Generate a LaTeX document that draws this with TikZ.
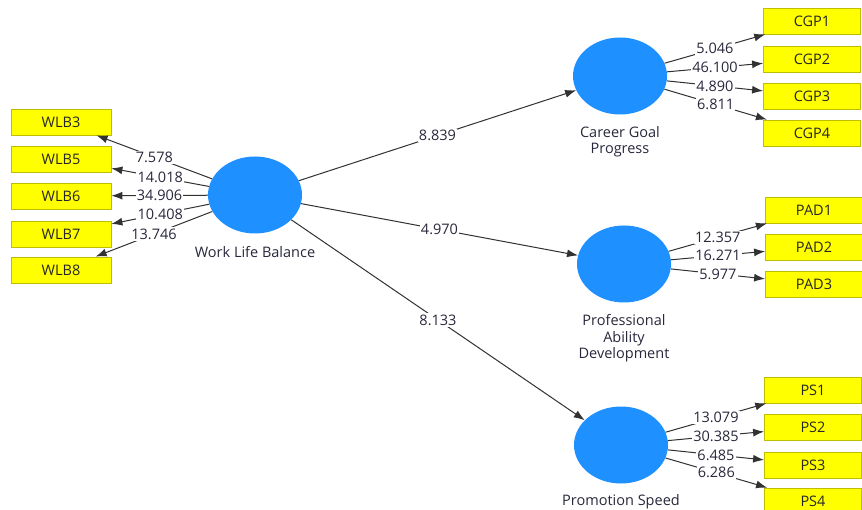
\documentclass[tikz,border=0pt]{standalone}
\usepackage{fontspec}
\setmainfont{Open Sans}
\usetikzlibrary{shapes.geometric,arrows.meta}
\definecolor{latblue}{RGB}{30,144,255}
\definecolor{indyel}{RGB}{255,255,0}
\definecolor{indborder}{RGB}{190,190,0}
\definecolor{edgecol}{RGB}{50,50,50}
\definecolor{txtcol}{RGB}{40,40,60}
\tikzset{
  latent/.style={ellipse, fill=latblue, draw=none, minimum width=94pt, minimum height=77pt, inner sep=0pt},
  indbox/.style={rectangle, fill=indyel, draw=indborder, line width=0.8pt, minimum width=97pt, minimum height=26pt, inner sep=0pt, font=\fontsize{14.5}{16}\selectfont, text=black!85},
  latlabel/.style={align=center, font=\fontsize{14.5}{16.5}\selectfont, text=txtcol},
  conn/.style={draw=edgecol, line width=1pt, -{Latex[length=11pt,width=8pt]}},
  wt/.style={midway, fill=white, inner sep=1.2pt, font=\fontsize{14.5}{16}\selectfont, text=txtcol}
}
\begin{document}
\begin{tikzpicture}[x=1pt,y=-1pt]
\clip (0,0) rectangle (862,510);
\fill[white] (0,0) rectangle (862,510);
% latent variables
\node[latent] (wlb) at (255,195) {};
\node[latent] (cgp) at (620,76) {};
\node[latent] (pad) at (624,264) {};
\node[latent] (ps) at (621,445) {};
\node[latlabel] (wlbL) at (255,252) {Work Life Balance};
\node[latlabel] (cgpL) at (620,141.5) {Career Goal\\Progress};
\node[latlabel] (padL) at (624,338.5) {Professional\\Ability\\Development};
\node[latlabel] (psL) at (621,502) {Promotion Speed};
% WLB indicators
\node[indbox, minimum width=100pt] (wlb3) at (61,122) {WLB3};
\node[indbox, minimum width=100pt] (wlb5) at (61,159) {WLB5};
\node[indbox, minimum width=100pt] (wlb6) at (61,196) {WLB6};
\node[indbox, minimum width=100pt] (wlb7) at (61,234) {WLB7};
\node[indbox, minimum width=100pt] (wlb8) at (61,270) {WLB8};
% CGP indicators
\node[indbox] (cgp1) at (812,21) {CGP1};
\node[indbox] (cgp2) at (812,59) {CGP2};
\node[indbox] (cgp3) at (812,96) {CGP3};
\node[indbox] (cgp4) at (812,133) {CGP4};
% PAD indicators
\node[indbox] (pad1) at (814,210) {PAD1};
\node[indbox] (pad2) at (814,247) {PAD2};
\node[indbox] (pad3) at (814,284) {PAD3};
% PS indicators
\node[indbox] (ps1) at (813,390) {PS1};
\node[indbox] (ps2) at (813,427) {PS2};
\node[indbox] (ps3) at (813,465) {PS3};
\node[indbox] (ps4) at (813,501) {PS4};
% structural paths
\draw[conn] (wlb) -- node[wt] {8.839} (cgp);
\draw[conn] (wlb) -- node[wt] {4.970} (pad);
\draw[conn] (wlb) -- node[wt] {8.133} (ps);
% WLB loadings
\draw[conn] (wlb) -- node[wt] {7.578} (wlb3);
\draw[conn] (wlb) -- node[wt] {14.018} (wlb5);
\draw[conn] (wlb) -- node[wt] {34.906} (wlb6);
\draw[conn] (wlb) -- node[wt] {10.408} (wlb7);
\draw[conn] (wlb) -- node[wt] {13.746} (wlb8);
% CGP loadings
\draw[conn] (cgp) -- node[wt] {5.046} (cgp1);
\draw[conn] (cgp) -- node[wt] {46.100} (cgp2);
\draw[conn] (cgp) -- node[wt] {4.890} (cgp3);
\draw[conn] (cgp) -- node[wt] {6.811} (cgp4);
% PAD loadings
\draw[conn] (pad) -- node[wt] {12.357} (pad1);
\draw[conn] (pad) -- node[wt] {16.271} (pad2);
\draw[conn] (pad) -- node[wt] {5.977} (pad3);
% PS loadings
\draw[conn] (ps) -- node[wt] {13.079} (ps1);
\draw[conn] (ps) -- node[wt] {30.385} (ps2);
\draw[conn] (ps) -- node[wt] {6.485} (ps3);
\draw[conn] (ps) -- node[wt] {6.286} (ps4);
\end{tikzpicture}
\end{document}
